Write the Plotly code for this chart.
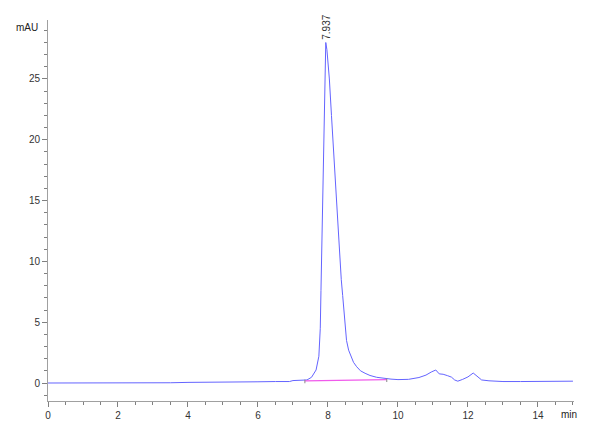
import plotly.graph_objects as go

# Chromatogram
time_min = [0, 0.5, 1, 1.5, 2, 2.5, 3, 3.5, 4, 4.5, 5, 5.5, 6, 6.5, 6.9, 7.0, 7.2, 7.3,
            7.4, 7.53, 7.6, 7.66, 7.74, 7.78, 7.8, 7.84, 7.88, 7.91, 7.937, 7.97, 8.0,
            8.04, 8.1, 8.15, 8.2, 8.25, 8.32, 8.38, 8.42, 8.45, 8.49, 8.53, 8.59, 8.65,
            8.73, 8.82, 8.93, 9.06, 9.2, 9.39, 9.6, 9.8, 10.0, 10.3, 10.6, 10.8, 10.95,
            11.08, 11.18, 11.29, 11.42, 11.53, 11.62, 11.71, 11.85, 12.0, 12.15, 12.25,
            12.39, 12.6, 13, 13.5, 14, 14.5, 15]
signal_mau = [0.0, 0.0, 0.0, 0.0, 0.02, -0.02, 0.0, 0.02, 0.05, 0.05, 0.05, 0.08, 0.1,
              0.12, 0.12, 0.2, 0.2, 0.2, 0.25, 0.47, 0.75, 1.07, 2.2, 4.5, 7.6, 14.2,
              21.0, 25.5, 28.0, 27.4, 26.5, 25.0, 22.0, 19.5, 16.8, 14.2, 10.8, 8.5,
              7.2, 6.2, 4.9, 3.5, 2.7, 2.2, 1.7, 1.34, 1.0, 0.8, 0.62, 0.47, 0.37, 0.32,
              0.28, 0.3, 0.45, 0.65, 0.9, 1.07, 0.75, 0.72, 0.6, 0.48, 0.25, 0.15, 0.3,
              0.5, 0.82, 0.55, 0.25, 0.18, 0.12, 0.12, 0.12, 0.15, 0.15]

# Integration baseline
base_time = [7.34, 9.68]
base_mau = [0.18, 0.28]

# Peak label
peak_time = 7.937
peak_height = 28.0
peak_label = "7.937"

x_ticks = [0, 2, 4, 6, 8, 10, 12, 14]
y_ticks = [0, 5, 10, 15, 20, 25]

fig = go.Figure()
fig.add_trace(go.Scatter(x=time_min, y=signal_mau, mode="lines",
                         line=dict(color="rgb(100,100,255)", width=1),
                         hoverinfo="skip", showlegend=False))
fig.add_trace(go.Scatter(x=base_time, y=base_mau, mode="lines",
                         line=dict(color="rgb(240,90,235)", width=1.2),
                         hoverinfo="skip", showlegend=False))
for t, v in zip(base_time, base_mau):
    fig.add_trace(go.Scatter(x=[t, t], y=[v + 0.1, v - 0.2], mode="lines",
                             line=dict(color="#888888", width=1),
                             hoverinfo="skip", showlegend=False))

fig.add_annotation(x=peak_time, y=peak_height, text=peak_label, textangle=-90,
                   showarrow=False, yanchor="bottom", xanchor="center", yshift=1,
                   font=dict(family="Liberation Sans", size=10, color="#333333"))
fig.add_annotation(xref="paper", yref="paper", x=0, y=1, text="mAU", showarrow=False,
                   xanchor="right", yanchor="middle", xshift=-8, yshift=-7,
                   font=dict(family="Liberation Sans", size=10, color="#222222"))
fig.add_annotation(xref="paper", yref="paper", x=1, y=0, text="min", showarrow=False,
                   xanchor="center", yanchor="top", xshift=-5, yshift=-6,
                   font=dict(family="Liberation Sans", size=10, color="#222222"))

axis_common = dict(showgrid=False, zeroline=False, showline=True, linecolor="#a0a0a0",
                   linewidth=1, ticks="outside", ticklen=5, tickcolor="#808080",
                   automargin=False,
                   tickfont=dict(family="Liberation Sans", size=10, color="#333333"))
fig.update_xaxes(range=[0, 15.03], tickvals=x_ticks,
                 minor=dict(dtick=0.5, ticks="outside", ticklen=3, tickcolor="#808080"),
                 **axis_common)
fig.update_yaxes(range=[-1.48, 29.85], tickvals=y_ticks,
                 minor=dict(dtick=1, ticks="outside", ticklen=3, tickcolor="#808080"),
                 **axis_common)

fig.update_layout(width=580, height=420, margin=dict(l=40, r=14, t=12, b=27),
                  plot_bgcolor="white", paper_bgcolor="white")
fig.write_html("out.html")
